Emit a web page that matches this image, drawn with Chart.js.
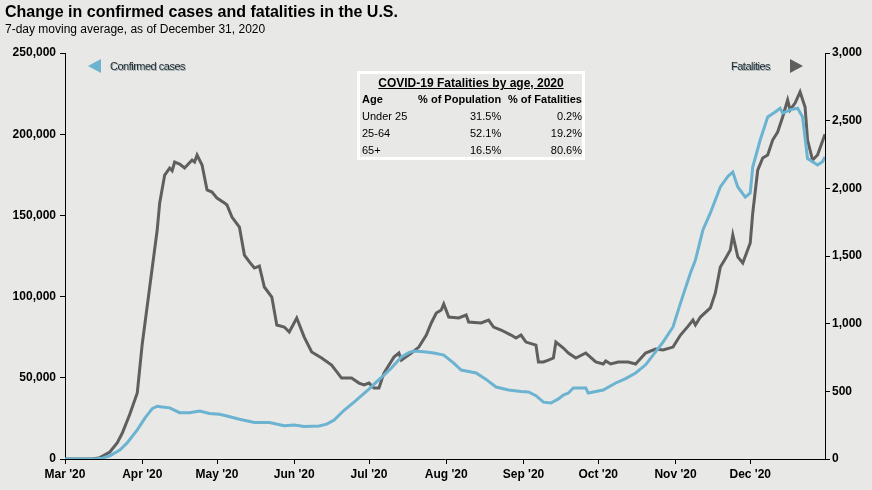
<!DOCTYPE html>
<html>
<head>
<meta charset="utf-8">
<script src="https://cdn.jsdelivr.net/npm/chart.js@4"></script>
<style>
  body { margin: 0; background: #e8e8e6; font-family: Arial, "Liberation Sans", sans-serif; }
  #wrap { position: relative; width: 872px; height: 490px; overflow: hidden; }
  #chart { position: absolute; left: 0; top: 0; }
  .title { position: absolute; left: 5px; top: 3px; font-size: 16px; font-weight: bold; color: #000; }
  .sub { position: absolute; left: 5px; top: 22px; font-size: 12px; color: #000; }
  .lbl { position: absolute; top: 60px; font-size: 11px; color: #1f2a33; letter-spacing: -0.5px; text-shadow: 1px 1px 0 #9aa; }
  .tri { position: absolute; width: 0; height: 0; border-top: 7px solid transparent; border-bottom: 7px solid transparent; }
  #box { position: absolute; left: 357px; top: 71px; width: 222px; height: 83px; border: 3px solid #fff; font-size: 11px; }
  #box .t { text-align: center; font-weight: bold; font-size: 12px; text-decoration: underline; margin-top: 2px; }
  #box table { border-collapse: collapse; margin-left: 2px; }
  #box td { padding: 0; height: 17px; white-space: nowrap; }
</style>
</head>
<body>
<div id="wrap">
  <canvas id="chart" width="872" height="490"></canvas>
  <div class="title">Change in confirmed cases and fatalities in the U.S.</div>
  <div class="sub">7-day moving average, as of December 31, 2020</div>
  <div class="tri" style="left:88px; top:59px; border-right:13px solid #6bb3d0;"></div>
  <div class="lbl" style="left:110px;">Confirmed cases</div>
  <div class="lbl" style="left:731px;">Fatalities</div>
  <div class="tri" style="left:790px; top:59px; border-left:13px solid #5f5f5f;"></div>
  <div id="box">
    <div class="t">COVID-19 Fatalities by age, 2020</div>
    <table>
      <tr style="font-weight:bold"><td style="width:58px">Age</td><td style="width:80px;text-align:right">% of Population</td><td style="width:82px;text-align:right">% of Fatalities</td></tr>
      <tr><td>Under 25</td><td style="text-align:right">31.5%</td><td style="text-align:right">0.2%</td></tr>
      <tr><td>25-64</td><td style="text-align:right">52.1%</td><td style="text-align:right">19.2%</td></tr>
      <tr><td>65+</td><td style="text-align:right">16.5%</td><td style="text-align:right">80.6%</td></tr>
    </table>
  </div>
</div>
<script>
// days counted from March 1, 2020
const monthStarts = [0, 31, 61, 92, 122, 153, 184, 214, 245, 275];
const monthLabels = ["Mar '20", "Apr '20", "May '20", "Jun '20", "Jul '20", "Aug '20", "Sep '20", "Oct '20", "Nov '20", "Dec '20"];

// Confirmed cases, 7-day average (left axis)
const caseDays = [0, 12, 15, 18, 22, 25, 29, 32, 35, 37, 39, 42, 46, 50, 54, 58, 62, 65, 70, 76, 82, 88, 92, 96, 102, 105,
  108, 112, 116, 119, 122, 125, 128, 131, 135, 138, 140, 144, 148, 152, 156, 159, 165, 169, 173, 178, 183, 186, 189, 192,
  195, 198, 200, 202, 204, 209, 210, 216, 221, 225, 229, 233, 237, 240, 244, 247, 251, 253, 256, 259, 263, 266, 268, 270,
  273, 275, 276, 279, 282, 285, 287, 288, 291, 294, 296, 298, 300, 302, 304, 305];
const caseValues = [0, 0, 500, 2000, 5500, 10000, 17900, 25000, 31000, 32500, 32000, 31500, 28500, 28500, 29500, 28000,
  27500, 26500, 24500, 22500, 22500, 20500, 21000, 20000, 20300, 21500, 24000, 30000, 35000, 39000, 43000, 47500, 51700,
  56000, 62800, 65500, 66500, 66000, 65300, 64000, 59000, 54800, 53000, 49000, 44300, 42500, 41500, 41300, 39000, 35000,
  34500, 37000, 39400, 40600, 43700, 43700, 40600, 42500, 46800, 49500, 53000, 58000, 66000, 72000, 81300, 96000, 114500,
  122500, 141000, 151500, 167500, 174000, 176700, 167500, 161300, 163800, 179800, 196400, 210600, 213700, 216000, 213000,
  215000, 216000, 210600, 185000, 183000, 181000, 183000, 186000];

// Fatalities, 7-day average (right axis)
const deathDays = [0, 11, 14, 18, 21, 23, 26, 29, 31, 34, 37, 38, 40, 42, 43, 44, 46, 48, 51, 52, 53, 55, 57, 59, 61, 64,
  65, 67, 70, 72, 74, 76, 78, 80, 83, 85, 88, 90, 93, 96, 99, 103, 107, 111, 115, 118, 120, 122, 124, 126, 128, 132, 134,
  135, 139, 142, 145, 147, 149, 151, 152, 154, 158, 161, 162, 167, 170, 172, 175, 179, 181, 183, 185, 189, 190, 192, 194,
  196, 197, 200, 202, 205, 209, 213, 216, 217, 219, 222, 226, 229, 233, 237, 240, 244, 247, 250, 252, 253, 255, 259, 261,
  263, 265, 267, 268, 270, 272, 275, 276, 278, 280, 282, 284, 286, 288, 290, 291, 293, 295, 297, 298, 300, 302, 305];
const deathValues = [0, 0, 10, 52, 120, 192, 330, 488, 850, 1271, 1692, 1892, 2098, 2150, 2130, 2194, 2180, 2150, 2209,
  2194, 2246, 2172, 1988, 1973, 1928, 1892, 1877, 1788, 1714, 1507, 1456, 1411, 1426, 1271, 1197, 990, 975, 938, 1042,
  901, 791, 746, 694, 598, 598, 561, 547, 561, 524, 524, 635, 753, 783, 731, 783, 827, 916, 1005, 1079, 1101, 1145, 1049,
  1042, 1064, 1012, 1005, 1027, 975, 953, 916, 894, 916, 864, 842, 717, 717, 731, 746, 864, 820, 783, 746, 783, 717, 702,
  724, 702, 717, 717, 702, 783, 812, 805, 827, 916, 980, 1027, 990, 1049, 1116, 1227, 1419, 1480, 1544, 1655, 1493, 1448,
  1596, 1818, 2135, 2224, 2246, 2357, 2416, 2527, 2653, 2579, 2630, 2712, 2601, 2357, 2209, 2246, 2400];

const toPoints = (xs, ys) => xs.map((x, i) => ({ x: x, y: ys[i] }));
const tickFont = { family: 'Arial, "Liberation Sans", sans-serif', size: 12, weight: 'bold' };

new Chart(document.getElementById('chart'), {
  type: 'line',
  data: {
    datasets: [{
      label: 'Confirmed cases',
      data: toPoints(caseDays, caseValues),
      yAxisID: 'y',
      borderColor: '#6bb3d0',
      borderWidth: 3,
      pointRadius: 0,
      tension: 0
    }, {
      label: 'Fatalities',
      data: toPoints(deathDays, deathValues),
      yAxisID: 'y2',
      borderColor: '#5f5f5f',
      borderWidth: 3,
      pointRadius: 0,
      tension: 0
    }]
  },
  options: {
    responsive: false,
    animation: false,
    layout: { padding: { left: 5, right: 0, top: 53, bottom: 0 } },
    plugins: { legend: { display: false }, tooltip: { enabled: false } },
    scales: {
      x: {
        type: 'linear',
        min: 0,
        max: 305,
        afterBuildTicks: s => { s.ticks = monthStarts.map(v => ({ value: v })); },
        afterFit: s => { s.height = 31; },
        ticks: {
          autoSkip: false,
          maxRotation: 0,
          color: '#000',
          font: tickFont,
          padding: 3,
          callback: v => monthLabels[monthStarts.indexOf(v)]
        },
        grid: { drawOnChartArea: false, tickLength: 5, tickColor: '#000' },
        border: { color: '#000', width: 1 }
      },
      y: {
        position: 'left',
        min: 0,
        max: 250000,
        afterFit: s => { s.width = 60; },
        ticks: { stepSize: 50000, color: '#000', font: tickFont, padding: 4, callback: v => v.toLocaleString('en-US') },
        grid: { drawOnChartArea: false, tickLength: 5, tickColor: '#000' },
        border: { color: '#000', width: 1 }
      },
      y2: {
        position: 'right',
        min: 0,
        max: 3000,
        afterFit: s => { s.width = 47; },
        ticks: { stepSize: 500, color: '#000', font: tickFont, padding: 2, callback: v => v.toLocaleString('en-US') },
        grid: { drawOnChartArea: false, tickLength: 5, tickColor: '#000' },
        border: { color: '#000', width: 1 }
      }
    }
  }
});
</script>
</body>
</html>
